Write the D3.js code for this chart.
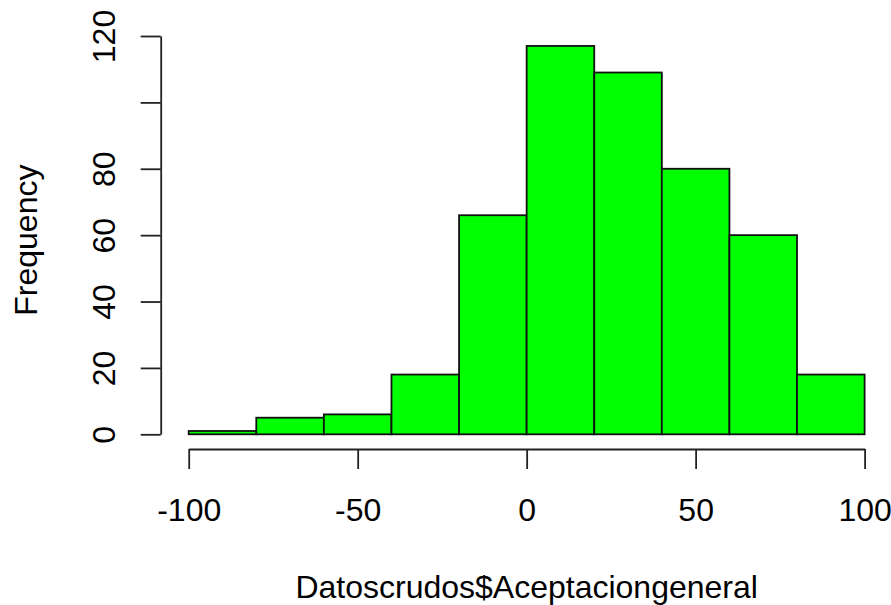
<!DOCTYPE html>
<html>
<head>
<meta charset="utf-8">
<script src="https://cdn.jsdelivr.net/npm/d3@7"></script>
<style>
  body { margin: 0; background: #fff; }
  svg text { font-family: "Liberation Sans", Arial, sans-serif; fill: #000; }
</style>
</head>
<body>
<div id="chart"></div>
<script>
// histogram bins (breaks every 20) and counts
const binStarts = [-100, -80, -60, -40, -20, 0, 20, 40, 60, 80];
const binWidth = 20;
const counts = [1, 5, 6, 18, 66, 117, 109, 80, 60, 18];
const xTicks = [-100, -50, 0, 50, 100];
const yTicks = [0, 20, 40, 60, 80, 100, 120];
const yHidden = [100]; // R drops this label because it would overlap
const xTitle = "Datoscrudos$Aceptaciongeneral";
const yTitle = "Frequency";

const width = 891, height = 605;

let svg = d3.select("#chart").append("svg")
    .attr("width", width)
    .attr("height", height);

let x = d3.scaleLinear().domain([-100, 100]).range([188.7, 864.6]);
let y = d3.scaleLinear().domain([0, 120]).range([434.3, 36]);

let bins = binStarts.map((s, i) => ({ x0: s, x1: s + binWidth, n: counts[i] }));

svg.append("g")
    .selectAll("rect")
    .data(bins)
    .join("rect")
    .attr("x", d => x(d.x0))
    .attr("y", d => y(d.n))
    .attr("width", d => x(d.x1) - x(d.x0))
    .attr("height", d => y(0) - y(d.n))
    .attr("fill", "#00ff00")
    .attr("stroke", "#111")
    .attr("stroke-width", 1.8);

// x axis (plain hyphen minus, like R)
let xAxis = svg.append("g")
    .attr("transform", "translate(0,449)")
    .call(d3.axisBottom(x).tickValues(xTicks).tickSize(20).tickSizeOuter(0).tickPadding(0)
        .tickFormat(d => String(d)));
xAxis.selectAll("text")
    .attr("y", 72)
    .attr("dy", 0)
    .style("font-size", "32px");

// y axis
let yAxis = svg.append("g")
    .attr("transform", "translate(160.7,0)")
    .call(d3.axisLeft(y).tickValues(yTicks).tickSize(20).tickSizeOuter(0)
        .tickFormat(d => yHidden.includes(d) ? "" : String(d)));
yAxis.selectAll("text")
    .attr("transform", "rotate(-90)")
    .attr("x", 0)
    .attr("y", -46)
    .attr("dy", 0)
    .attr("text-anchor", "middle")
    .style("font-size", "32px");

svg.selectAll(".domain, .tick line")
    .attr("stroke", "#222")
    .attr("stroke-width", 1.8);

svg.append("text")
    .attr("x", x(0))
    .attr("y", 598)
    .attr("text-anchor", "middle")
    .style("font-size", "32px")
    .text(xTitle);

svg.append("text")
    .attr("transform", "translate(37," + y(58.5) + ") rotate(-90)")
    .attr("text-anchor", "middle")
    .style("font-size", "32px")
    .text(yTitle);
</script>
</body>
</html>
